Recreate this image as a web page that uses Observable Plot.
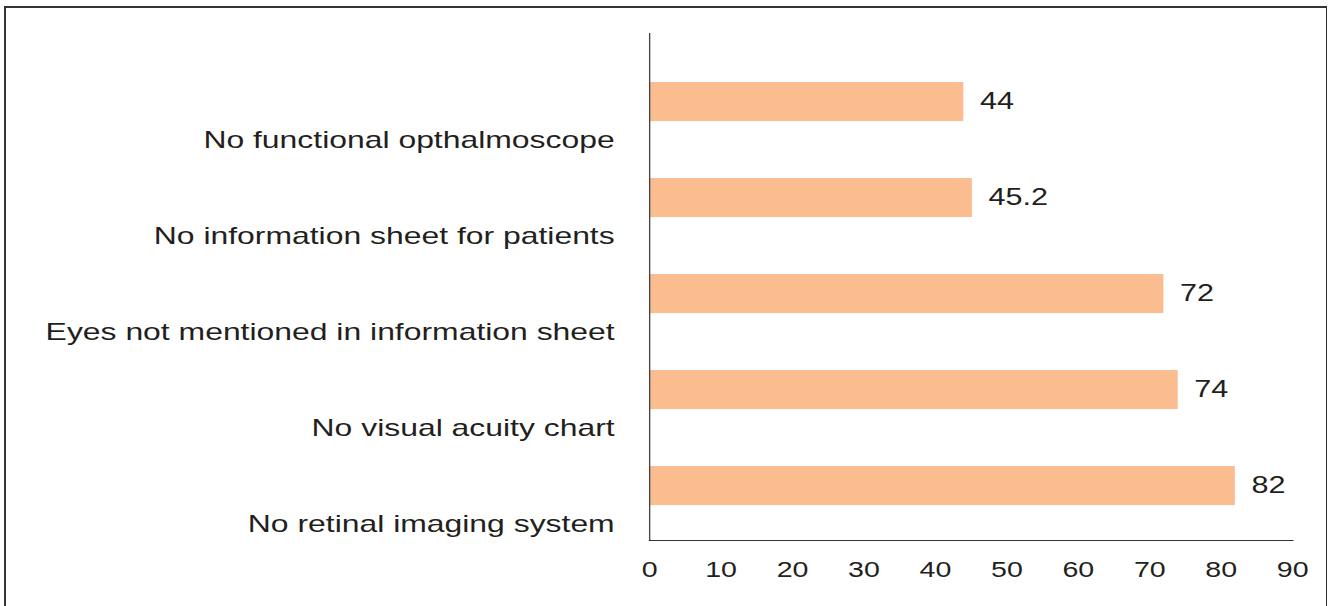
<!DOCTYPE html>
<html>
<head>
<meta charset="utf-8">
<script src="https://cdn.jsdelivr.net/npm/d3@7"></script>
<script src="https://cdn.jsdelivr.net/npm/@observablehq/plot@0.6"></script>
<style>
  html, body { margin: 0; padding: 0; background: #fff; width: 1332px; height: 606px; overflow: hidden; }
  #border { position: absolute; left: 4px; top: 6px; width: 1323px; height: 700px;
            border-top: 2px solid #333; border-left: 2px solid #333; border-right: 1px solid #333; box-sizing: border-box; }
  #chart { position: absolute; left: 0; top: 0; transform-origin: 0 0; }
</style>
</head>
<body>
<div id="border"></div>
<div id="chart"></div>
<script>
const categories = [
  "No functional opthalmoscope",
  "No information sheet for patients",
  "Eyes not mentioned in information sheet",
  "No visual acuity chart",
  "No retinal imaging system"
];
const values = [44, 45.2, 72, 74, 82];
const valueLabels = ["44", "45.2", "72", "74", "82"];
const xTicks = [0, 10, 20, 30, 40, 50, 60, 70, 80, 90];

const data = categories.map((c, i) => ({category: c, value: values[i], label: valueLabels[i]}));

const S = 1332 / 1002;  // horizontal stretch of the original picture
const W = 1002;

const chart = Plot.plot({
  width: W,
  height: 606,
  marginTop: 33,
  marginBottom: 66,
  marginLeft: 488.2,
  marginRight: 30.1,
  style: {fontFamily: "'Liberation Sans', Arial, Helvetica, sans-serif", color: "#231f20", background: "transparent"},
  x: {domain: [0, 90], ticks: xTicks},
  y: {domain: categories, range: [53.5, 533.5], paddingInner: 0.594, paddingOuter: 0.297, axis: null},
  marks: [
    Plot.barX(data, {x: "value", y: "category", fill: "#fbbc90"}),
    Plot.text(data, {x: "value", y: "category", text: "label", textAnchor: "start", dx: 12, fontSize: 23, fill: "#231f20"}),
    Plot.text(data, {x: 0, y: "category", text: "category", textAnchor: "end", dx: -26.3, dy: 38.5, fontSize: 24, fill: "#231f20"}),
    Plot.axisX({ticks: xTicks, tickSize: 0, tickPadding: 21, fontSize: 21.5, tickFormat: d => String(d), label: null, color: "#231f20"}),
    Plot.frame({anchor: "left", stroke: "#444", strokeWidth: 1}),
    Plot.frame({anchor: "bottom", stroke: "#333", strokeWidth: 1.2})
  ]
});
const holder = document.getElementById("chart");
holder.style.transform = `scaleX(${S})`;
holder.appendChild(chart);
</script>
</body>
</html>
